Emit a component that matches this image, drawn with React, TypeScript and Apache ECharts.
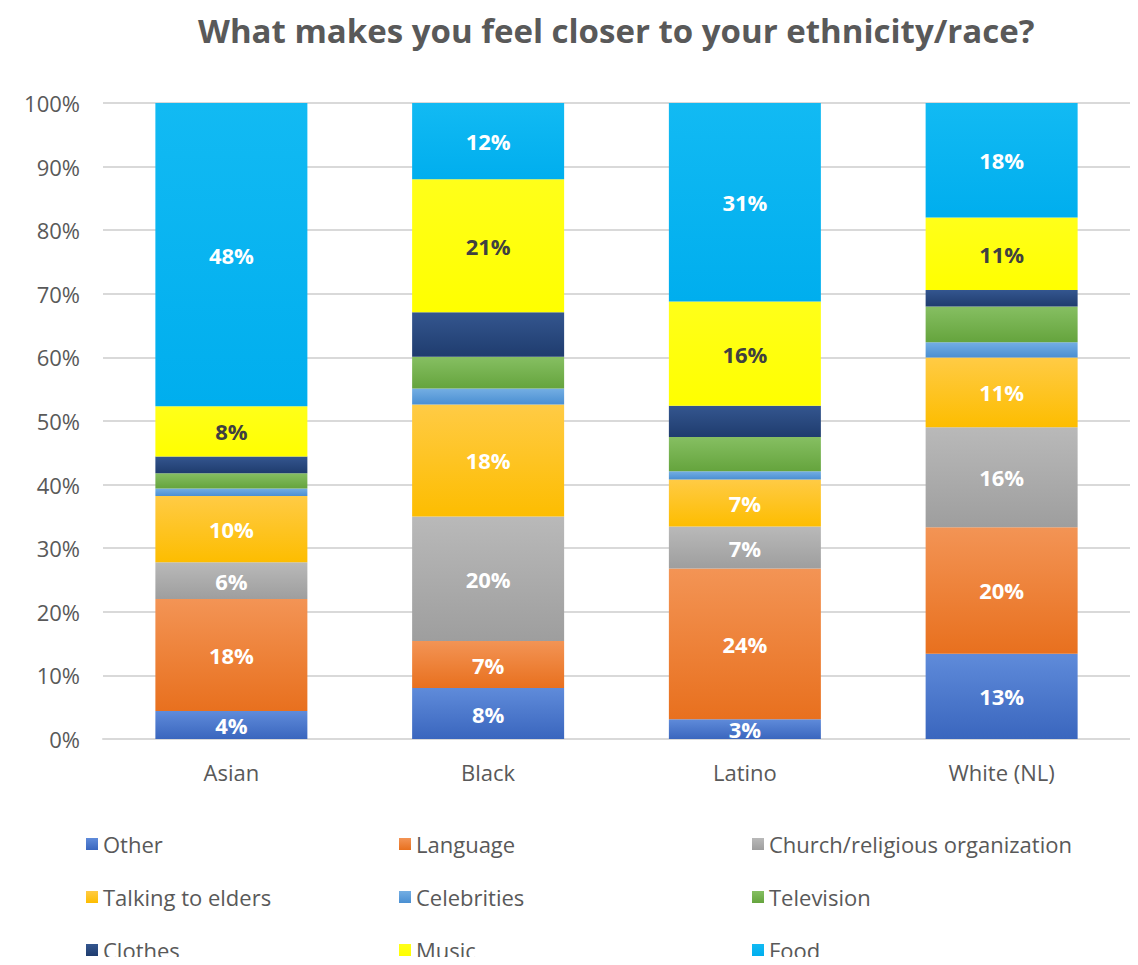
import React, { useEffect, useRef } from "react";
import * as echarts from "echarts";

const categories = ["Asian", "Black", "Latino", "White (NL)"];
const seriesNames = [
  "Other",
  "Language",
  "Church/religious organization",
  "Talking to elders",
  "Celebrities",
  "Television",
  "Clothes",
  "Music",
  "Food",
];
const other = [4.4, 8.0, 3.1, 13.4];
const language = [17.6, 7.4, 23.7, 19.9];
const church = [5.8, 19.6, 6.6, 15.7];
const talking = [10.4, 17.6, 7.4, 11.0];
const celebrities = [1.2, 2.5, 1.3, 2.4];
const television = [2.4, 5.0, 5.4, 5.6];
const clothes = [2.6, 7.0, 4.9, 2.6];
const music = [7.9, 20.9, 16.4, 11.4];
const food = [47.7, 12.0, 31.2, 18.0];
const yTicks = [0, 10, 20, 30, 40, 50, 60, 70, 80, 90, 100];

const seriesData = [other, language, church, talking, celebrities, television, clothes, music, food];
const topColors = ["#5F8BDA", "#F39455", "#B9B9B9", "#FFCB45", "#74AEE3", "#86BF62", "#34568F", "#FFFF1A", "#12BAF3"];
const bottomColors = ["#3A66BE", "#E8701E", "#9E9E9E", "#FDBD00", "#4A8FD2", "#65A43D", "#1F3C6E", "#FFFF00", "#00AEEE"];
const labelled = [true, true, true, true, false, false, false, true, true];
const labelColors = ["#FFFFFF", "#FFFFFF", "#FFFFFF", "#FFFFFF", "#FFFFFF", "#FFFFFF", "#FFFFFF", "#404040", "#FFFFFF"];

const FONT = "'Open Sans', 'Noto Sans', sans-serif";

export default function App() {
  const ref = useRef<HTMLDivElement>(null);
  useEffect(() => {
    if (!ref.current) return;
    const chart = echarts.init(ref.current, undefined, { renderer: "svg" });
    const legendCols = [
      [0, 3, 6],
      [1, 4, 7],
      [2, 5, 8],
    ];
    const legendLefts = [73, 386, 739];
    chart.setOption({
      animation: false,
      backgroundColor: "#FFFFFF",
      title: {
        text: "What makes you feel closer to your ethnicity/race?",
        left: 185,
        top: 1,
        textStyle: { fontFamily: FONT, fontSize: 33, fontWeight: "bold", color: "#595959" },
      },
      legend: legendCols.map((col, i) => ({
        orient: "vertical",
        left: legendLefts[i],
        top: 816,
        height: 200,
        itemWidth: 12,
        itemHeight: 12,
        itemGap: 23,
        icon: "rect",
        selectedMode: false,
        data: col.map((k) => seriesNames[k]),
        textStyle: { fontFamily: FONT, fontSize: 22, color: "#595959", lineHeight: 30 },
      })),
      grid: { left: 95, right: 0, top: 95, bottom: 226, containLabel: false },
      xAxis: {
        type: "category",
        data: categories,
        axisLine: { lineStyle: { color: "#D9D9D9", width: 2 } },
        axisTick: { show: false },
        axisLabel: { fontFamily: FONT, fontSize: 22, color: "#595959", margin: 22 },
      },
      yAxis: {
        type: "value",
        min: yTicks[0],
        max: yTicks[yTicks.length - 1],
        interval: 10,
        axisLine: { show: false },
        axisTick: { show: false },
        splitLine: { lineStyle: { color: "#D9D9D9", width: 2 } },
        axisLabel: {
          fontFamily: FONT,
          fontSize: 22,
          color: "#595959",
          margin: 23,
          formatter: (v: number) => v + "%",
        },
      },
      series: seriesNames.map((name, i) => ({
        name,
        type: "bar",
        stack: "total",
        barWidth: 152,
        data: seriesData[i],
        itemStyle: {
          color: new echarts.graphic.LinearGradient(0, 0, 0, 1, [
            { offset: 0, color: topColors[i] },
            { offset: 1, color: bottomColors[i] },
          ]),
        },
        label: {
          show: labelled[i],
          position: "inside",
          fontFamily: FONT,
          fontSize: 22,
          fontWeight: "bold",
          color: labelColors[i],
          formatter: (p: any) => Math.round(p.value) + "%",
        },
      })),
    });
    return () => chart.dispose();
  }, []);
  return <div ref={ref} style={{ width: 1122, height: 957, marginBottom: -8 }} />;
}
